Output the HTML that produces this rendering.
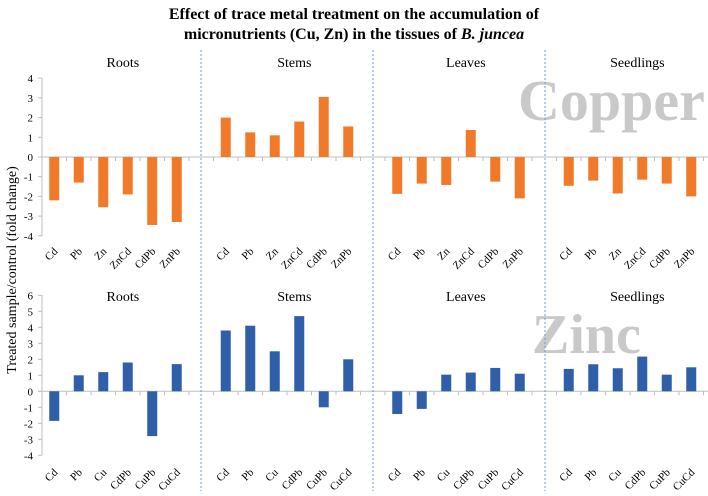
<!DOCTYPE html>
<html><head><meta charset="utf-8"><style>
body{margin:0;background:#fff}
svg,svg text{font-family:"Liberation Serif",serif}
</style></head><body>
<svg id="c" width="708" height="491" xmlns="http://www.w3.org/2000/svg" font-family="Liberation Serif, serif">
<text x="354" y="19" text-anchor="middle" font-size="16" font-weight="bold">Effect of trace metal treatment on the accumulation of</text>
<text x="354" y="39" text-anchor="middle" font-size="16" font-weight="bold">micronutrients (Cu, Zn) in the tissues of <tspan font-style="italic">B. juncea</tspan></text>
<text transform="translate(16,270) rotate(-90)" text-anchor="middle" font-size="14">Treated sample/control  (fold change)</text>
<text x="518" y="120" font-size="58" font-weight="bold" fill="#c9c9c9">Copper</text>
<text x="532" y="353" font-size="56" font-weight="bold" fill="#c9c9c9">Zinc</text>
<g id="g" font-family="Liberation Serif, serif"></g>
</svg>
<script>
const panels=["Roots","Stems","Leaves","Seedlings"];
const cuCats=[["Cd","Pb","Zn","ZnCd","CdPb","ZnPb"],["Cd","Pb","Zn","ZnCd","CdPb","ZnPb"],["Cd","Pb","Zn","ZnCd","CdPb","ZnPb"],["Cd","Pb","Zn","ZnCd","CdPb","ZnPb"]];
const znCats=[["Cd","Pb","Cu","CdPb","CuPb","CuCd"],["Cd","Pb","Cu","CdPb","CuPb","CuCd"],["Cd","Pb","Cu","CdPb","CuPb","CuCd"],["Cd","Pb","Cu","CdPb","CuPb","CuCd"]];
const copperRoots=[-2.2,-1.3,-2.55,-1.9,-3.45,-3.3];
const copperStems=[2.0,1.25,1.1,1.8,3.05,1.55];
const copperLeaves=[-1.87,-1.35,-1.42,1.37,-1.25,-2.1];
const copperSeedlings=[-1.46,-1.2,-1.85,-1.15,-1.35,-2.0];
const zincRoots=[-1.85,1.0,1.2,1.8,-2.8,1.7];
const zincStems=[3.8,4.1,2.5,4.7,-1.0,2.0];
const zincLeaves=[-1.42,-1.1,1.04,1.17,1.46,1.1];
const zincSeedlings=[1.4,1.69,1.44,2.17,1.04,1.5];
const cuTicks=[4,3,2,1,0,-1,-2,-3,-4];
const znTicks=[6,5,4,3,2,1,0,-1,-2,-3,-4];
const NS="http://www.w3.org/2000/svg",G=document.getElementById("g");
function mk(t,a,txt){const e=document.createElementNS(NS,t);for(const k in a)e.setAttribute(k,a[k]);if(t==="text")e.setAttribute("font-family","Liberation Serif, serif");if(txt!=null)e.textContent=txt;G.appendChild(e);return e;}
const X0=42,SLOT=24.5;
function xs(i){return X0+SLOT*(i+0.5);}
function chart(vals,cats,ticks,y0,scale,color,titleY,labY,name){
  const ys=v=>y0-v*scale;
  const top=ys(ticks[0]),bot=ys(ticks[ticks.length-1]);
  let ax=mk("line",{x1:X0,x2:X0,y1:top,y2:bot,stroke:"#bfbfbf"});
  
  
  let zl=mk("line",{x1:X0-4,x2:708,y1:ys(0),y2:ys(0),stroke:"#bfbfbf"});
  
  
  ticks.forEach(t=>{
    mk("line",{x1:X0-4,x2:X0,y1:ys(t),y2:ys(t),stroke:"#bfbfbf"});
    let tl=mk("text",{x:X0-9,y:ys(t)+4,"text-anchor":"end","font-size":11},String(t));
    
    
  });
  for(let i=1;i<=28;i++)mk("line",{x1:X0+SLOT*i,x2:X0+SLOT*i,y1:ys(0),y2:ys(0)+4,stroke:"#bfbfbf"});
  vals.forEach((arr,p)=>{
    let pt=mk("text",{x:xs(p*7+2.8),y:titleY,"text-anchor":"middle","font-size":14},panels[p]);
    
    
    arr.forEach((v,j)=>{
      const cx=xs(p*7+j);
      let b=mk("rect",{x:cx-5,y:Math.min(ys(v),ys(0)),width:10,height:Math.abs(ys(v)-ys(0)),fill:color});
      
      
      let l=mk("text",{transform:`translate(${cx+4},${labY}) rotate(-45)`,"text-anchor":"end","font-size":11},cats[p][j]);
      
      
    });
  });
}
chart([copperRoots,copperStems,copperLeaves,copperSeedlings],cuCats,cuTicks,157,19.7,"#f07a2a",67,252,"copper");
chart([zincRoots,zincStems,zincLeaves,zincSeedlings],znCats,znTicks,391.3,16,"#2f5fa8",301,473,"zinc");
[201,373,545].forEach(x=>{
  let d=mk("line",{x1:x,x2:x,y1:50,y2:491,stroke:"#6b9bd8","stroke-dasharray":"2,2"});
  
  
});
</script>
</body></html>
